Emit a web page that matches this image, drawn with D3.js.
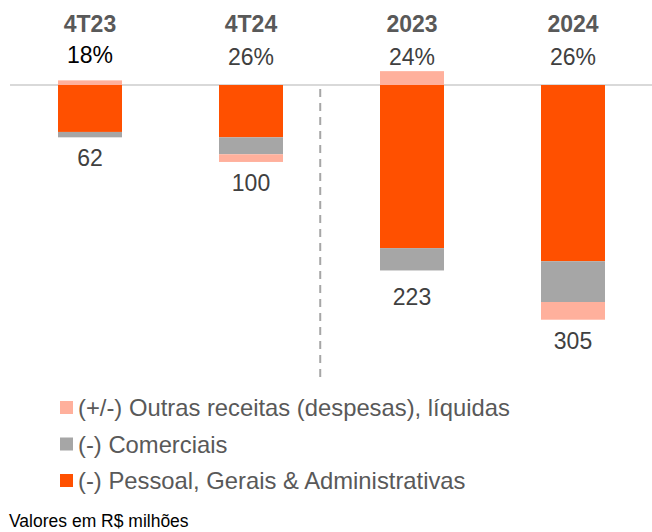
<!DOCTYPE html>
<html>
<head>
<meta charset="utf-8">
<script src="https://cdn.jsdelivr.net/npm/d3@7"></script>
<style>
  body { margin: 0; background: #fff; }
  text { font-family: "Liberation Sans", Arial, sans-serif; }
</style>
</head>
<body>
<div class="vis-chart"></div>
<script>
// Data (R$ milhões, despesas negativas)
const categories = ["4T23", "4T24", "2023", "2024"];
const pessoal = [-61, -68, -212, -229];
const comerciais = [-7, -22, -29, -53];
const outras = [6, -10, 18, -23];
const totals = [62, 100, 223, 305];
const margins = ["18%", "26%", "24%", "26%"];

const seriesKeys = ["pessoal", "comerciais", "outras"];
const seriesColors = { pessoal: "#ff5000", comerciais: "#a6a6a6", outras: "#ffb09c" };
const legendItems = [
    { key: "outras", label: "(+/-) Outras receitas (despesas), líquidas" },
    { key: "comerciais", label: "(-) Comerciais" },
    { key: "pessoal", label: "(-) Pessoal, Gerais & Administrativas" }
];

const width = 652, height = 532;
const barWidth = 64;

const svg = d3.select(".vis-chart")
    .append("svg")
    .attr("width", width)
    .attr("height", height);

const rows = categories.map((c, i) => ({
    cat: c, pessoal: pessoal[i], comerciais: comerciais[i], outras: outras[i]
}));

const stacked = d3.stack()
    .keys(seriesKeys)
    .offset(d3.stackOffsetDiverging)(rows);

// X channel
const x = d3.scalePoint()
    .domain(categories)
    .range([9.5, 653.5])
    .padding(0.5);

// Y channel (baseline at 85)
const y = d3.scaleLinear()
    .domain([0, -305])
    .range([85, 319.7]);

// baseline
svg.append("line")
    .attr("x1", 10).attr("x2", width)
    .attr("y1", y(0)).attr("y2", y(0))
    .style("stroke", "#d9d9d9")
    .style("stroke-width", 2);

// Bars
const layer = svg.selectAll(".layer")
    .data(stacked)
    .enter()
    .append("g")
    .attr("class", "layer")
    .style("fill", d => seriesColors[d.key]);

layer.selectAll("rect")
    .data(d => d)
    .enter()
    .append("rect")
    .attr("x", d => x(d.data.cat) - barWidth / 2)
    .attr("y", d => y(Math.max(d[0], d[1])))
    .attr("height", d => Math.abs(y(d[0]) - y(d[1])))
    .attr("width", barWidth);

// separator between quarters and years
const sepX = x("4T24") + x.step() * 0.43;
svg.append("line")
    .attr("x1", sepX).attr("x2", sepX)
    .attr("y1", 89).attr("y2", 377)
    .style("stroke", "#a6a6a6")
    .style("stroke-width", 2)
    .style("stroke-dasharray", "8, 6");

// Headers
svg.selectAll(".header")
    .data(categories)
    .enter()
    .append("text")
    .attr("class", "header")
    .attr("x", d => x(d))
    .attr("y", 32)
    .attr("text-anchor", "middle")
    .style("font-size", "23px")
    .style("font-weight", "bold")
    .style("fill", "#595959")
    .text(d => d);

svg.selectAll(".margin")
    .data(margins)
    .enter()
    .append("text")
    .attr("class", "margin")
    .attr("x", (d, i) => x(categories[i]))
    .attr("y", (d, i) => i === 0 ? 63 : 65)
    .attr("text-anchor", "middle")
    .style("font-size", "23px")
    .style("fill", (d, i) => i === 0 ? "#000" : "#404040")
    .text(d => d);

// Totals below bars
const bottoms = categories.map((c, i) => d3.min(stacked, s => s[i][0]));
svg.selectAll(".total")
    .data(totals)
    .enter()
    .append("text")
    .attr("class", "total")
    .attr("x", (d, i) => x(categories[i]))
    .attr("y", (d, i) => y(bottoms[i]) + 29 + (i === 2 ? 6 : 0))
    .attr("text-anchor", "middle")
    .style("font-size", "23px")
    .style("fill", "#404040")
    .text(d => d);

// legend
const legend = svg.append("g")
    .attr("transform", "translate(60, 0)");
const legends = legend.selectAll(".legend_item")
    .data(legendItems)
    .enter()
    .append("g")
    .attr("class", "legend_item")
    .attr("transform", (d, i) => `translate(0, ${416 + i * 36.5})`);
legends.append("rect")
    .attr("y", -15)
    .attr("width", 13)
    .attr("height", 13)
    .attr("fill", d => seriesColors[d.key]);
legends.append("text")
    .attr("x", 18)
    .style("font-size", "23.8px")
    .style("fill", "#595959")
    .text(d => d.label);

// footnote
svg.append("text")
    .attr("x", 9)
    .attr("y", 527)
    .style("font-size", "17.5px")
    .style("fill", "#000")
    .text("Valores em R$ milhões");
</script>
</body>
</html>
